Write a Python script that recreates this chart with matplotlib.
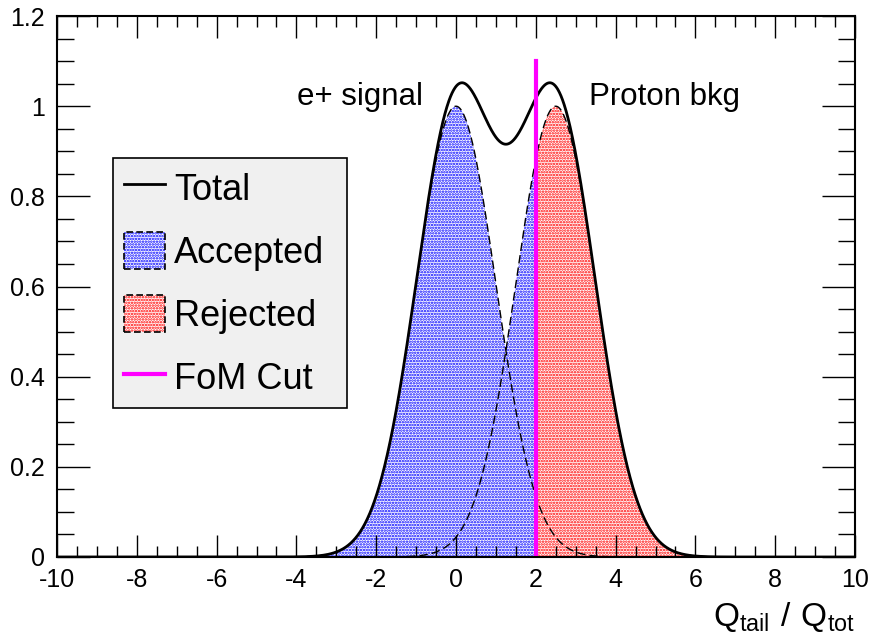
import numpy as np
import matplotlib
matplotlib.use('Agg')
import matplotlib.pyplot as plt
from matplotlib.lines import Line2D
from matplotlib.patches import Patch
from matplotlib.legend_handler import HandlerTuple
from matplotlib.ticker import MultipleLocator

plt.rcParams['font.family'] = ['Liberation Sans', 'DejaVu Sans']
plt.rcParams['hatch.linewidth'] = 1.2

# gaussian shapes: e+ signal and proton background
signal_mean = 0.0
signal_sigma = 1.0
signal_amp = 1.0
proton_mean = 2.5
proton_sigma = 1.0
proton_amp = 1.0
fom_cut = 2.0
cut_top = 1.1

legend_labels = ['Total', 'Accepted', 'Rejected', 'FoM Cut']

x = np.linspace(-10, 10, 2001)
sig = signal_amp * np.exp(-0.5 * ((x - signal_mean) / signal_sigma) ** 2)
bkg = proton_amp * np.exp(-0.5 * ((x - proton_mean) / proton_sigma) ** 2)
total = sig + bkg
upper = np.maximum(sig, bkg)

fig = plt.figure(figsize=(8.73, 6.42), dpi=100)
ax = fig.add_axes([0.0653, 0.1324, 0.9141, 0.8426])

# dotted fills like the ROOT fill style
ax.fill_between(x, 0, upper, where=x <= fom_cut, facecolor='white',
                edgecolor='blue', hatch='......', linewidth=0, interpolate=True)
ax.fill_between(x, 0, upper, where=x >= fom_cut, facecolor='white',
                edgecolor='red', hatch='......', linewidth=0, interpolate=True)

ax.plot(x, sig, color='black', linestyle=(0, (6, 3)), linewidth=1)
ax.plot(x, bkg, color='black', linestyle=(0, (6, 3)), linewidth=1)
ax.plot(x, total, color='black', linewidth=2)
ax.plot([fom_cut, fom_cut], [0, cut_top], color='magenta', linewidth=3)

ax.text(-3.98, 1.02, 'e+ signal', fontsize=22.5, va='center', ha='left')
ax.text(3.33, 1.02, 'Proton bkg', fontsize=22.5, va='center', ha='left')

ax.set_xlim(-10, 10)
ax.set_ylim(0, 1.2)
ax.xaxis.set_major_locator(MultipleLocator(2))
ax.xaxis.set_minor_locator(MultipleLocator(0.5))
ax.yaxis.set_major_locator(MultipleLocator(0.2))
ax.yaxis.set_minor_locator(MultipleLocator(0.05))
ax.xaxis.set_major_formatter(plt.FuncFormatter(lambda v, p: '%g' % v))
ax.yaxis.set_major_formatter(plt.FuncFormatter(lambda v, p: '%g' % round(v, 2)))
ax.tick_params(which='both', direction='in', top=True, right=True,
               labelsize=18, width=1)
ax.tick_params(axis='x', which='major', length=16, pad=8)
ax.tick_params(axis='x', which='minor', length=8)
ax.tick_params(axis='y', which='major', length=24, pad=9)
ax.tick_params(axis='y', which='minor', length=12)
for s in ax.spines.values():
    s.set_linewidth(1.5)

ax.set_xlabel(r'$\mathregular{Q_{tail}\ /\ Q_{tot}}$', fontsize=24, loc='right',
              labelpad=6)


def box(color):
    fill = Patch(facecolor='white', edgecolor=color, hatch='......', linewidth=0)
    edge = Patch(facecolor='none', edgecolor='black', linestyle=(0, (4, 2)),
                 linewidth=1.2)
    return (fill, edge)


handles = [
    Line2D([0], [0], color='black', linewidth=2),
    box('blue'),
    box('red'),
    Line2D([0], [0], color='magenta', linewidth=3),
]
leg = ax.legend(handles, legend_labels, loc='upper left', mode='expand',
                bbox_to_anchor=(0.0702, 0.7375, 0.2932, 0.0), fontsize=26,
                frameon=True, fancybox=False, framealpha=1,
                facecolor='#f0f0f0', edgecolor='black',
                handler_map={tuple: HandlerTuple(ndivide=1, pad=0)},
                handlelength=1.15, handleheight=1.2, handletextpad=0.25,
                labelspacing=0.68, borderpad=0.3, borderaxespad=0)
leg.get_frame().set_linewidth(1.2)

plt.savefig('out.png', dpi=100)
